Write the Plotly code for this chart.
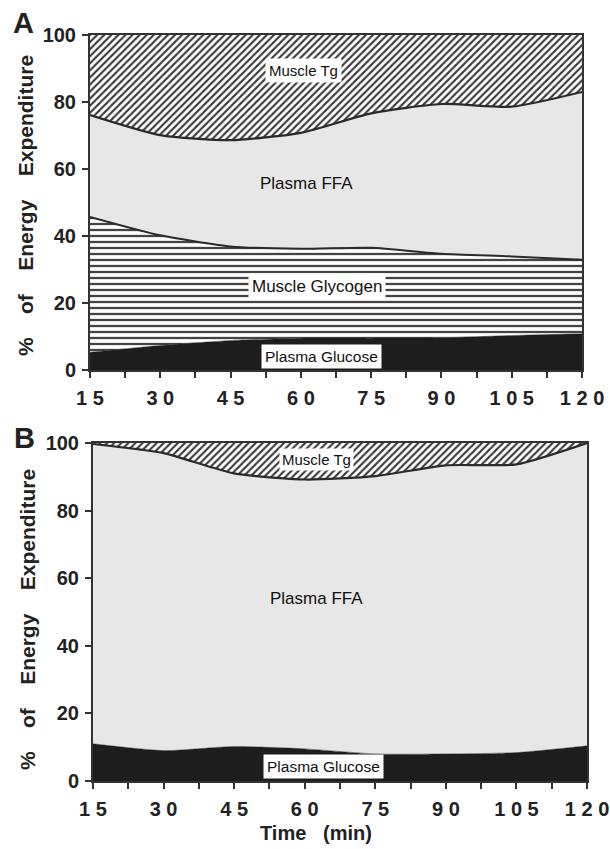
import plotly.graph_objects as go

# ---- data (percent of energy expenditure) ----
time_min = [15, 30, 45, 60, 75, 90, 105, 120]

# Panel A
a_plasma_glucose = [5.3, 7.3, 8.8, 9.5, 9.5, 9.6, 10.3, 10.8]
a_muscle_glycogen = [40.4, 32.9, 28.1, 26.7, 27.0, 25.1, 23.6, 22.1]
a_plasma_ffa = [30.4, 29.9, 31.7, 34.6, 40.1, 44.7, 44.7, 50.1]
a_muscle_tg = [23.9, 29.9, 31.4, 29.2, 23.4, 20.6, 21.4, 17.0]

# Panel B
b_plasma_glucose = [11.0, 9.0, 10.2, 9.5, 8.0, 8.0, 8.4, 10.4]
b_plasma_ffa = [88.7, 88.0, 80.8, 79.7, 82.2, 85.4, 85.3, 89.6]
b_muscle_tg = [0.3, 3.0, 9.0, 10.8, 9.8, 6.6, 6.3, 0.0]

# ticks
x_tick_vals = [15, 22.5, 30, 37.5, 45, 52.5, 60, 67.5, 75, 82.5, 90, 97.5, 105, 112.5, 120]
x_tick_text = ["1 5", "", "3 0", "", "4 5", "", "6 0", "", "7 5", "", "9 0", "", "1 0 5", "", "1 2 0"]
y_tick_vals = [0, 20, 40, 60, 80, 100]
y_tick_text = ["0", "20", "40", "60", "80", "100"]

FONT = "Liberation Sans, Arial, Helvetica, sans-serif"
DARK = "#2a2a2a"

fig = go.Figure()


def add_stack(x, y, group, xa, ya, kind):
    common = dict(x=x, y=y, mode="lines", stackgroup=group, xaxis=xa, yaxis=ya,
                  hoverinfo="skip", showlegend=False)
    if kind == "glucose":
        fig.add_trace(go.Scatter(**common, fillcolor="#1d1d1d",
                                 line=dict(color="#1d1d1d", width=0.5, shape="spline", smoothing=0.6)))
    elif kind == "glycogen":
        fig.add_trace(go.Scatter(**common,
                                 fillpattern=dict(shape="-", fgcolor="#444444", bgcolor="white",
                                                  size=6, solidity=0.38, fillmode="replace"),
                                 line=dict(color=DARK, width=2, shape="spline", smoothing=0.6)))
    elif kind == "ffa":
        fig.add_trace(go.Scatter(**common, fillcolor="#e7e7e7",
                                 line=dict(color=DARK, width=2.2, shape="spline", smoothing=0.6)))
    elif kind == "tg":
        fig.add_trace(go.Scatter(**common,
                                 fillpattern=dict(shape="/", fgcolor="#3c3c3c", bgcolor="white",
                                                  size=5, solidity=0.42, fillmode="replace"),
                                 line=dict(color=DARK, width=0, shape="spline", smoothing=0.6)))


add_stack(time_min, a_plasma_glucose, "a", "x", "y", "glucose")
add_stack(time_min, a_muscle_glycogen, "a", "x", "y", "glycogen")
add_stack(time_min, a_plasma_ffa, "a", "x", "y", "ffa")
add_stack(time_min, a_muscle_tg, "a", "x", "y", "tg")

add_stack(time_min, b_plasma_glucose, "b", "x2", "y2", "glucose")
add_stack(time_min, b_plasma_ffa, "b", "x2", "y2", "ffa")
add_stack(time_min, b_muscle_tg, "b", "x2", "y2", "tg")

W, H = 610, 849

axis_common = dict(showline=True, linecolor="#333333", linewidth=2, mirror=True,
                   ticks="outside", ticklen=6, tickwidth=2, tickcolor="#333333",
                   showgrid=False, zeroline=False, fixedrange=True, automargin=False,
                   tickfont=dict(family=FONT, size=20, color="#222222", weight="bold"))

xa = dict(axis_common, range=[15, 120], tickmode="array", tickvals=x_tick_vals,
          ticktext=x_tick_text, ticklabelstandoff=3)
ya = dict(axis_common, range=[0, 100], tickmode="array", tickvals=y_tick_vals,
          ticktext=y_tick_text, ticklabelstandoff=2)

fig.update_layout(
    template="none",
    width=W, height=H, autosize=False,
    margin=dict(l=0, r=0, t=0, b=0, pad=0, autoexpand=False),
    paper_bgcolor="white", plot_bgcolor="white",
    showlegend=False, hovermode=False,
    xaxis=dict(xa, domain=[90 / W, 582 / W], anchor="y"),
    yaxis=dict(ya, domain=[1 - 370 / H, 1 - 35 / H], anchor="x"),
    xaxis2=dict(xa, domain=[93 / W, 587 / W], anchor="y2"),
    yaxis2=dict(ya, domain=[1 - 781 / H, 1 - 443 / H], anchor="x2"),
)

lab_font = dict(family=FONT, size=15, color="#111111")
NB = "\u00a0"
ytitle = f"%{NB*4}of{NB*4}Energy{NB*4}Expenditure"
annotations = [
    # panel A labels
    dict(x=60.5, y=89.3, xref="x", yref="y", text="Muscle Tg", bgcolor="white", borderpad=3),
    dict(x=61.3, y=55.8, xref="x", yref="y", text="Plasma FFA", font=dict(lab_font, size=17)),
    dict(x=63.5, y=24.8, xref="x", yref="y", text="Muscle Glycogen", bgcolor="white", borderpad=3,
         font=dict(lab_font, size=17)),
    dict(x=64.3, y=4.0, xref="x", yref="y", text="Plasma Glucose", bgcolor="white", borderpad=3,
         font=dict(lab_font, size=15.5)),
    # panel B labels
    dict(x=62.6, y=95.0, xref="x2", yref="y2", text="Muscle Tg", bgcolor="white", borderpad=2),
    dict(x=62.6, y=54.1, xref="x2", yref="y2", text="Plasma FFA", font=dict(lab_font, size=17)),
    dict(x=63.9, y=4.2, xref="x2", yref="y2", text="Plasma Glucose", bgcolor="white", borderpad=3,
         font=dict(lab_font, size=15.5)),
    # panel letters
    dict(x=23 / W, y=1 - 23 / H, xref="paper", yref="paper", text="A",
         font=dict(family=FONT, size=29, color="#222222", weight="bold")),
    dict(x=25 / W, y=1 - 438 / H, xref="paper", yref="paper", text="B",
         font=dict(family=FONT, size=29, color="#222222", weight="bold")),
    # y titles
    dict(x=26 / W, y=1 - 206 / H, xref="paper", yref="paper", textangle=-90,
         text=ytitle, font=dict(family=FONT, size=21, color="#222222", weight="bold")),
    dict(x=27 / W, y=1 - 620 / H, xref="paper", yref="paper", textangle=-90,
         text=ytitle, font=dict(family=FONT, size=21, color="#222222", weight="bold")),
    # x title
    dict(x=316 / W, y=1 - 833 / H, xref="paper", yref="paper",
         text=f"Time{NB*3}(min)",
         font=dict(family=FONT, size=20, color="#222222", weight="bold")),
]
for a in annotations:
    a.setdefault("font", lab_font)
    a.setdefault("showarrow", False)
    a.setdefault("xanchor", "center")
    a.setdefault("yanchor", "middle")
fig.update_layout(annotations=annotations)

fig.write_html("out.html", config={"displayModeBar": False, "staticPlot": True})
